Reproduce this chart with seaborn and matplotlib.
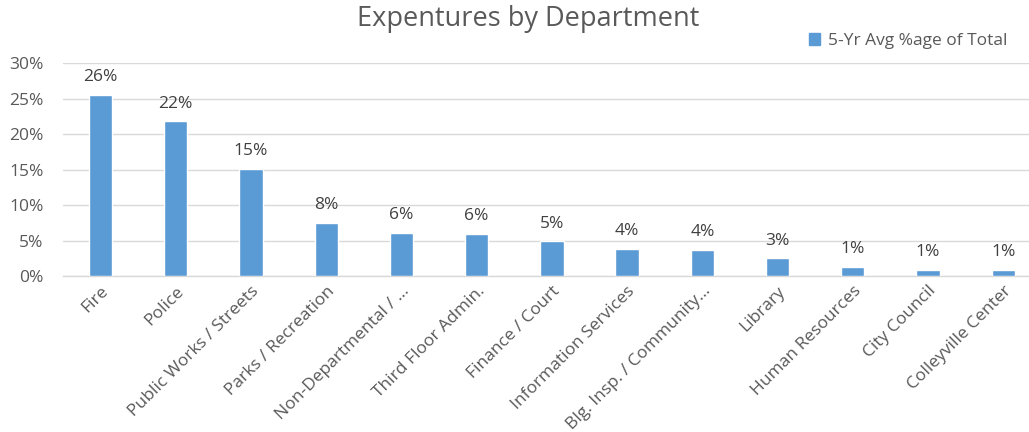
import matplotlib
matplotlib.use("Agg")
import matplotlib.pyplot as plt
import seaborn as sns
import pandas as pd
from matplotlib.ticker import PercentFormatter
from matplotlib.patches import Patch

departments = ["Fire", "Police", "Public Works / Streets", "Parks / Recreation",
               "Non-Departmental / \u2026", "Third Floor Admin.", "Finance / Court",
               "Information Services", "Blg. Insp. / Community\u2026", "Library",
               "Human Resources", "City Council", "Colleyville Center"]
values = [25.5, 21.8, 15.1, 7.5, 6.1, 5.9, 4.9, 3.8, 3.7, 2.5, 1.3, 0.9, 0.9]
labels = ["26%", "22%", "15%", "8%", "6%", "6%", "5%", "4%", "4%", "3%", "1%", "1%", "1%"]
series_name = "5-Yr Avg %age of Total"

df = pd.DataFrame({"Department": departments, "Value": values})

sns.set_style("white")
plt.rcParams["font.family"] = ["Open Sans", "DejaVu Sans"]

TXT = "#595959"
BAR = "#5B9BD5"

fig = plt.figure(figsize=(10.29, 4.32), dpi=100)
# plot area extends slightly past the right edge, as in the reference crop
ax = fig.add_axes([0.0612, 0.361, 0.9503, 0.493])

sns.barplot(data=df, x="Department", y="Value", color=BAR, width=0.31,
            saturation=1, ax=ax, zorder=3)

ax.set_ylim(0, 30)
ax.set_xlim(-0.5, len(departments) - 0.5)
ax.set_yticks([0, 5, 10, 15, 20, 25, 30])
ax.yaxis.set_major_formatter(PercentFormatter(decimals=0))
ax.grid(axis="y", color="#D9D9D9", linewidth=1, zorder=0)
for s in ["top", "right", "left"]:
    ax.spines[s].set_visible(False)
ax.spines["bottom"].set_color("#D9D9D9")
ax.spines["bottom"].set_linewidth(1)
ax.set_xlabel("")
ax.set_ylabel("")
ax.tick_params(axis="y", length=0, colors=TXT, labelsize=12.5, pad=14)
ax.tick_params(axis="x", length=0, colors=TXT, labelsize=12.5, pad=5)
plt.setp(ax.get_xticklabels(), rotation=45, ha="right", rotation_mode="anchor")

for i, (v, lab) in enumerate(zip(values, labels)):
    ax.annotate(lab, (i, v), xytext=(0, 7), textcoords="offset points",
                ha="center", va="bottom", fontsize=12.5, color="#404040")

fig.text(0.513, 0.957, "Expentures by Department", ha="center", va="center",
         fontsize=19.5, color=TXT)

handle = Patch(facecolor=BAR, edgecolor=BAR)
leg = fig.legend([handle], [series_name], loc="center right",
                 bbox_to_anchor=(0.979, 0.905), frameon=False, fontsize=12.5,
                 handlelength=0.65, handleheight=0.65, handletextpad=0.45,
                 labelcolor=TXT, borderaxespad=0, borderpad=0)

fig.savefig("out.png", dpi=100)
